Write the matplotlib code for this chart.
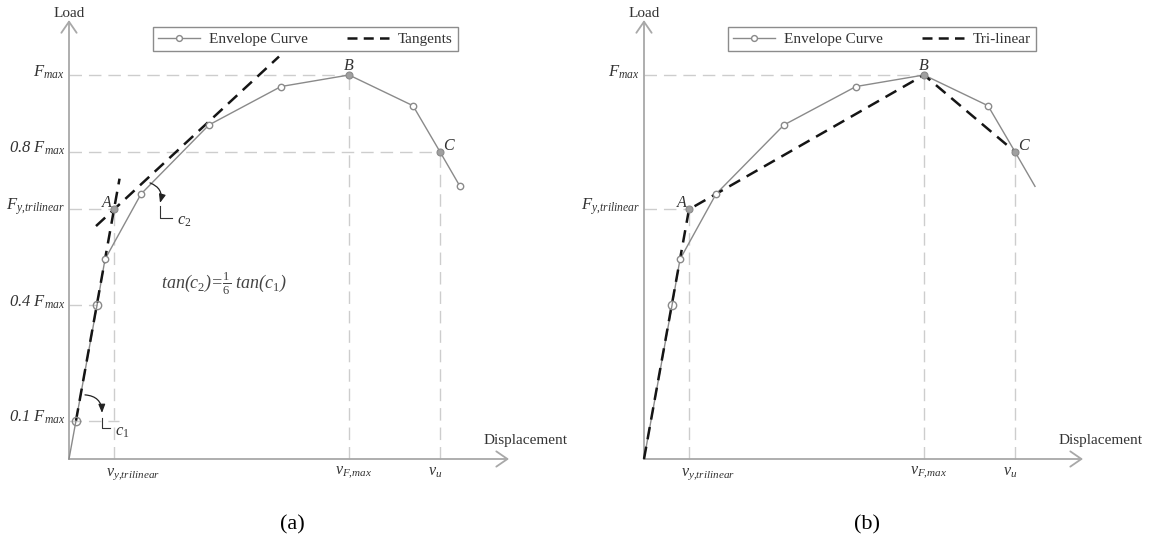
import matplotlib.pyplot as plt
from matplotlib.lines import Line2D

plt.rcParams['font.family'] = 'Liberation Serif'
plt.rcParams['mathtext.fontset'] = 'custom'
plt.rcParams['mathtext.rm'] = 'Liberation Serif'
plt.rcParams['mathtext.it'] = 'Liberation Serif:italic'
plt.rcParams['mathtext.bf'] = 'Liberation Serif:bold'

# envelope curve: displacement (arbitrary units), load as a fraction of F_max
disp = [0.0, 0.7, 2.8, 3.6, 7.2, 14.0, 21.2, 28.0, 34.4, 37.1, 39.1]
load = [0.0, 0.10, 0.40, 0.52, 0.69, 0.87, 0.97, 1.00, 0.92, 0.80, 0.71]

# characteristic points A (yield), B (peak), C (ultimate)
v_y, F_y = 4.5, 0.65
v_Fmax, F_max = 28.0, 1.0
v_u, F_u = 37.1, 0.80

# tangents of panel (a): initial stiffness through 0.1 F_max, second one 1/6 as steep
tan1_load = [0.10, 0.73]
tan2_disp = [2.7, 21.0]
k1 = (F_y - load[1]) / (v_y - disp[1])
k2 = k1 / 6
tan1_disp = [disp[1] + (f - load[1]) / k1 for f in tan1_load]
tan2_load = [F_y + k2 * (x - v_y) for x in tan2_disp]

# tri-linear idealisation of panel (b)
tri_disp = [0.0, v_y, v_Fmax, v_u]
tri_load = [0.0, F_y, F_max, F_u]

AX_C = '#a8a8a8'
GUIDE_C = '#cdcdcd'
ENV_C = '#8a8a8a'
TXT_C = '#333333'
DASH_KW = dict(color='#151515', lw=1.8, dashes=(5, 3))


def guide(ax, xs, ys):
    ax.plot(xs, ys, color=GUIDE_C, lw=1.0, dashes=(9, 5), zorder=1)


def draw_frame(ax, x_end):
    arrow = dict(arrowstyle='->,head_length=0.8,head_width=0.55', color=AX_C,
                 lw=1.3, shrinkA=0, shrinkB=0)
    ax.annotate('', xy=(x_end, 0), xytext=(0, 0), arrowprops=arrow)
    ax.annotate('', xy=(0, 1.143), xytext=(0, 0), arrowprops=arrow)
    ax.text(0, 1.161, 'Load', ha='center', va='center', fontsize=11, color=TXT_C)
    ax.text(45.7, 0.047, 'Displacement', ha='center', va='center', fontsize=11,
            color=TXT_C)


def draw_envelope(ax, small_idx, big_idx, last):
    ax.plot(disp[:last], load[:last], color=ENV_C, lw=1.0, zorder=3)
    ax.plot([disp[i] for i in small_idx], [load[i] for i in small_idx], 'o',
            ms=4.6, mfc='white', mec=ENV_C, mew=1.0, zorder=5)
    ax.plot([disp[i] for i in big_idx], [load[i] for i in big_idx], 'o',
            ms=6.0, mfc='none', mec=ENV_C, mew=1.0, zorder=5)
    ax.plot([v_y, v_Fmax, v_u], [F_y, F_max, F_u], 'o', ms=5.0, mfc='#a0a0a0',
            mec='#8a8a8a', mew=0.8, zorder=6)


def point_labels(ax):
    kw = dict(fontsize=11.5, style='italic', color=TXT_C, zorder=7)
    ax.text(v_y - 0.75, F_y + 0.017, 'A', ha='center', va='center', **kw)
    ax.text(v_Fmax, F_max + 0.023, 'B', ha='center', va='center', **kw)
    ax.text(v_u + 0.3, F_u + 0.015, 'C', ha='left', va='center', **kw)


def left_labels(ax, items):
    for txt, y in items:
        ax.text(-0.4, y + 0.008, txt, ha='right', va='center', fontsize=12,
                style='italic', color=TXT_C)


def bottom_labels(ax):
    kw = dict(ha='left', va='center', fontsize=11.5, color=TXT_C)
    ax.text(v_y - 0.8, -0.039, r'$v_{y{,}trilinear}$', **kw)
    ax.text(v_Fmax - 1.4, -0.034, r'$v_{F{,}max}$', **kw)
    ax.text(v_u - 1.2, -0.034, r'$v_{u}$', **kw)


def legend(ax, second_label):
    handles = [
        Line2D([], [], color=ENV_C, lw=1.0, marker='o', ms=4.2, mfc='white',
               mec=ENV_C),
        Line2D([], [], color='#151515', lw=1.8, dashes=(4, 2.5)),
    ]
    leg = ax.legend(handles, ['Envelope Curve', second_label], ncol=2,
                    loc='upper left', bbox_to_anchor=(8.4, 1.125),
                    bbox_transform=ax.transData, borderaxespad=0,
                    fontsize=11, frameon=True, fancybox=False, framealpha=1,
                    edgecolor='#8c8c8c', borderpad=0.35, handletextpad=0.6,
                    columnspacing=2.6, handlelength=2.7)
    leg.get_frame().set_linewidth(1.0)
    for t in leg.get_texts():
        t.set_color(TXT_C)


fig = plt.figure(figsize=(11.51, 5.45), dpi=100)
ax_a = fig.add_axes([0, 0, 575 / 1151, 1])
ax_b = fig.add_axes([575 / 1151, 0, 576 / 1151, 1])
for ax, xr in ((ax_a, 50.6), (ax_b, 50.7)):
    ax.set_xlim(-6.9, xr)
    ax.set_ylim(-86 / 384, 459 / 384)
    ax.axis('off')

# ---- (a) tangent construction ----
ax = ax_a
guide(ax, [0, v_Fmax], [F_max, F_max])
guide(ax, [0, v_u], [0.8, 0.8])
guide(ax, [0, v_y], [F_y, F_y])
guide(ax, [0, disp[2]], [0.4, 0.4])
guide(ax, [0, 5.0], [0.1, 0.1])
guide(ax, [v_y, v_y], [0, F_y])
guide(ax, [v_Fmax, v_Fmax], [0, F_max])
guide(ax, [v_u, v_u], [0, F_u])
draw_frame(ax, 44.0)
draw_envelope(ax, [3, 4, 5, 6, 8, 10], [1, 2], len(disp))
ax.plot(tan1_disp, tan1_load, zorder=4, **DASH_KW)
ax.plot(tan2_disp, tan2_load, zorder=4, **DASH_KW)
point_labels(ax)
left_labels(ax, [(r'$F_{max}$', 1.0),
                 (r'0.8 $F_{max}$', 0.8),
                 (r'$F_{y{,}trilinear}$', F_y),
                 (r'0.4 $F_{max}$', 0.4),
                 (r'0.1 $F_{max}$', 0.1)])
bottom_labels(ax)
legend(ax, 'Tangents')

# angle markers c1 and c2
arc = dict(arrowstyle='-|>,head_length=0.5,head_width=0.2', color='#222222',
           lw=0.9, shrinkA=0, shrinkB=0)
ax.annotate('', xy=(3.3, 0.120), xytext=(1.6, 0.167),
            arrowprops=dict(connectionstyle='arc3,rad=-0.45', **arc))
ax.plot([3.3, 3.3, 4.1], [0.107, 0.081, 0.081], color='#333333', lw=0.8)
ax.text(4.6, 0.070, r'$c_1$', ha='left', va='center', fontsize=12,
        color=TXT_C)
ax.annotate('', xy=(9.1, 0.667), xytext=(8.1, 0.719),
            arrowprops=dict(connectionstyle='arc3,rad=-0.45', **arc))
ax.plot([9.1, 9.1, 10.3], [0.659, 0.628, 0.628], color='#333333', lw=0.8)
ax.text(10.8, 0.620, r'$c_2$', ha='left', va='center', fontsize=12,
        color=TXT_C)
ax.text(15.5, 0.458, r'tan($c_2$)=$\frac{1}{6}$ tan($c_1$)', style='italic',
        ha='center', va='center', fontsize=13, color='#444444')
ax.text(22.3, -0.172, '(a)', ha='center', va='center', fontsize=16,
        color='black')

# ---- (b) tri-linear idealisation ----
ax = ax_b
guide(ax, [0, v_Fmax], [F_max, F_max])
guide(ax, [0, v_y], [F_y, F_y])
guide(ax, [v_y, v_y], [0, F_y])
guide(ax, [v_Fmax, v_Fmax], [0, F_max])
guide(ax, [v_u, v_u], [0, F_u])
draw_frame(ax, 43.9)
draw_envelope(ax, [3, 4, 5, 6, 8], [2], len(disp))
ax.plot(tri_disp, tri_load, zorder=4, **DASH_KW)
point_labels(ax)
left_labels(ax, [(r'$F_{max}$', 1.0),
                 (r'$F_{y{,}trilinear}$', F_y)])
bottom_labels(ax)
legend(ax, 'Tri-linear')
ax.text(22.3, -0.172, '(b)', ha='center', va='center', fontsize=16,
        color='black')

fig.savefig('out.png', dpi=100)
